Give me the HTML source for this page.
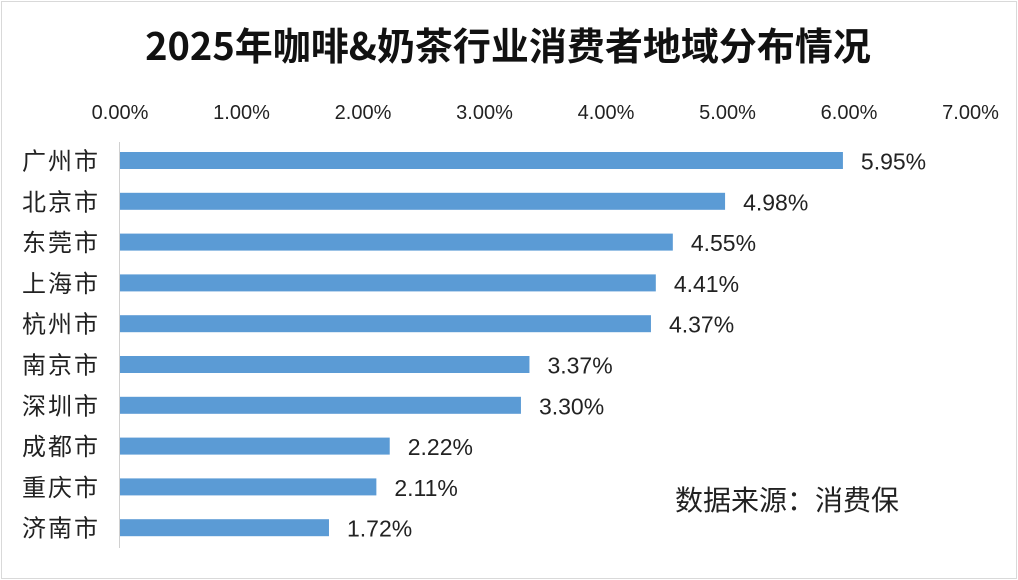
<!DOCTYPE html>
<html><head><meta charset="utf-8"><style>
body{margin:0;background:#fff;}
svg{display:block;font-family:"Liberation Sans","Noto Sans CJK SC",sans-serif;}
</style></head><body>
<svg id="chart" width="1018" height="580" viewBox="0 0 1018 580">
<rect x="1.5" y="1.5" width="1015" height="577" fill="#fff" stroke="#d9d9d9" stroke-width="1"/>
<text x="508" y="60" text-anchor="middle" font-size="38" font-weight="bold" fill="#111" font-family="'Noto Sans CJK SC',sans-serif">2025年咖啡&amp;奶茶行业消费者地域分布情况</text>
<line x1="119.5" y1="142" x2="119.5" y2="548" stroke="#d0d0d0" stroke-width="1"/>
<text x="675" y="510" font-size="28" fill="#222" font-family="'Noto Sans CJK SC',sans-serif">数据来源：消费保</text>
<g id="ticks"></g><g id="bars"></g>
</svg>
<script>
const categories=["广州市","北京市","东莞市","上海市","杭州市","南京市","深圳市","成都市","重庆市","济南市"];
const values=[5.95,4.98,4.55,4.41,4.37,3.37,3.30,2.22,2.11,1.72];
const tickValues=[0,1,2,3,4,5,6,7];
const tickLabels=["0.00%","1.00%","2.00%","3.00%","4.00%","5.00%","6.00%","7.00%"];
const NS="http://www.w3.org/2000/svg";
const x=v=>120+v*121.5;
const y=i=>160.5+i*40.8;
const tg=document.getElementById('ticks'),bg=document.getElementById('bars');
tickValues.forEach((v,i)=>{
 const t=document.createElementNS(NS,'text');
 t.setAttribute('x',x(v));t.setAttribute('y',119);t.setAttribute('text-anchor','middle');
 t.setAttribute('font-size','20');t.setAttribute('fill','#222');
 
 
 t.textContent=tickLabels[i];tg.appendChild(t);
});
categories.forEach((c,i)=>{
 const r=document.createElementNS(NS,'rect');
 r.setAttribute('x',x(0));r.setAttribute('y',y(i)-8.5);r.setAttribute('width',x(values[i])-x(0));r.setAttribute('height',17);
 r.setAttribute('fill','#5b9bd5');
 
 
 bg.appendChild(r);
 const l=document.createElementNS(NS,'text');
 l.setAttribute('x',100);l.setAttribute('y',y(i)+9);l.setAttribute('text-anchor','end');
 l.setAttribute('font-size','24');l.setAttribute('fill','#222');l.setAttribute('letter-spacing','2');
 
 
 l.textContent=c;bg.appendChild(l);
 const v=document.createElementNS(NS,'text');
 v.setAttribute('x',x(values[i])+18);v.setAttribute('y',y(i)+9);
 v.setAttribute('font-size','23');v.setAttribute('fill','#222');
 
 
 v.textContent=values[i].toFixed(2)+'%';bg.appendChild(v);
});
</script>
</body></html>
